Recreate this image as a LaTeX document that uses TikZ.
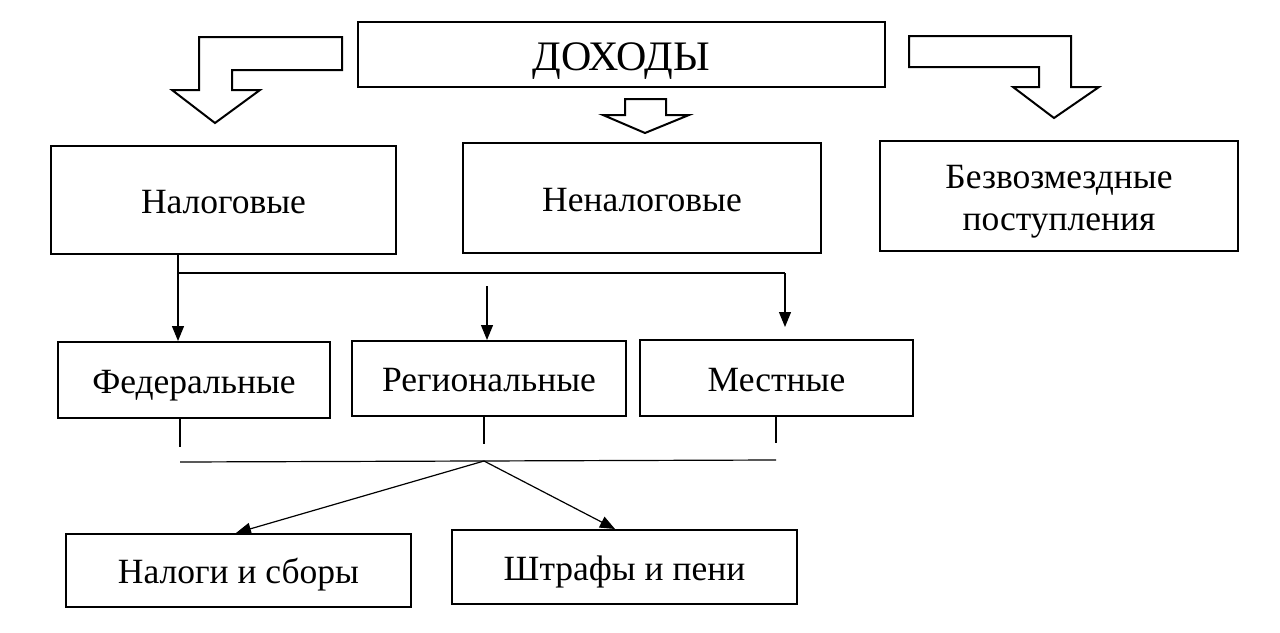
\documentclass[tikz,border=0pt]{standalone}
\usepackage{fontspec}
\setmainfont{Liberation Serif}
\usetikzlibrary{arrows.meta}
\begin{document}
\begin{tikzpicture}[x=1pt,y=-1pt,
  box/.style={draw,line width=2pt,inner sep=0pt,font=\fontsize{35.5}{42}\selectfont,text height=33.7pt,text depth=7.5pt},
  txt/.style={inner sep=0pt,font=\fontsize{35.5}{42}\selectfont,align=center},
  blk/.style={draw,line width=2pt,line join=miter},
  con/.style={line width=1.2pt},
  arr/.style={con,-{Triangle[length=15pt,width=12pt]}}]
\useasboundingbox (0,0) rectangle (1280,632);
\node[box,minimum width=527,minimum height=65,font=\fontsize{42}{48}\selectfont,text height=39pt,text depth=8pt] (doh) at (621.5,54.5) {ДОХОДЫ};
\node[box,minimum width=345,minimum height=108] (nal) at (223.5,200) {Налоговые};
\node[box,minimum width=358,minimum height=110] (nenal) at (642,198) {Неналоговые};
\node[box,minimum width=358,minimum height=110] (bez) at (1059,196) {};
\node[txt,anchor=base] (bezt) at (1059,230) {Безвозмездные\\поступления};
\node[box,minimum width=272,minimum height=76] (fed) at (194,380) {Федеральные};
\node[box,minimum width=274,minimum height=75] (reg) at (489,378.5) {Региональные};
\node[box,minimum width=273,minimum height=76] (mes) at (776.5,378) {Местные};
\node[box,minimum width=345,minimum height=73] (nsb) at (238.5,570.5) {Налоги и сборы};
\node[box,minimum width=345,minimum height=74] (shp) at (624.5,567) {Штрафы и пени};
% block arrows
\draw[blk] (199,37) -- (342,37) -- (342,70) -- (232,70) -- (232,90) -- (260,90) -- (215,123) -- (172,90) -- (199,90) -- cycle;
\draw[blk] (625,99) -- (666,99) -- (666,115) -- (689,115) -- (645,133) -- (603,115) -- (625,115) -- cycle;
\draw[blk] (909,36) -- (1071,36) -- (1071,87) -- (1099,87) -- (1054,118) -- (1013,87) -- (1039,87) -- (1039,67) -- (909,67) -- cycle;
% connectors top
\coordinate (j1) at (178,273);
\coordinate (j2) at (785,273);
\coordinate (j3) at (785,327);
\coordinate (j4) at (487,286);
\draw[arr] (nal.south -| j1) -- (fed.north -| j1);
\draw[con] (j1) -- (j2);
\draw[arr] (j2) -- (j3);
\draw[arr] (j4) -- (reg.north -| j4);
% connectors bottom
\coordinate (t1) at (180,447);
\coordinate (t2) at (484,444);
\coordinate (t3) at (776,443);
\coordinate (h1) at (180,462);
\coordinate (h2) at (776,460);
\coordinate (m) at (484,461);
\draw[con] (fed.south -| t1) -- (t1);
\draw[con] (reg.south -| t2) -- (t2);
\draw[con] (mes.south -| t3) -- (t3);
\draw[con] (h1) -- (h2);
\draw[arr] (m) -- (nsb.north -| 236,0);
\draw[arr] (m) -- (shp.north -| 615,0);
\end{tikzpicture}
\end{document}
